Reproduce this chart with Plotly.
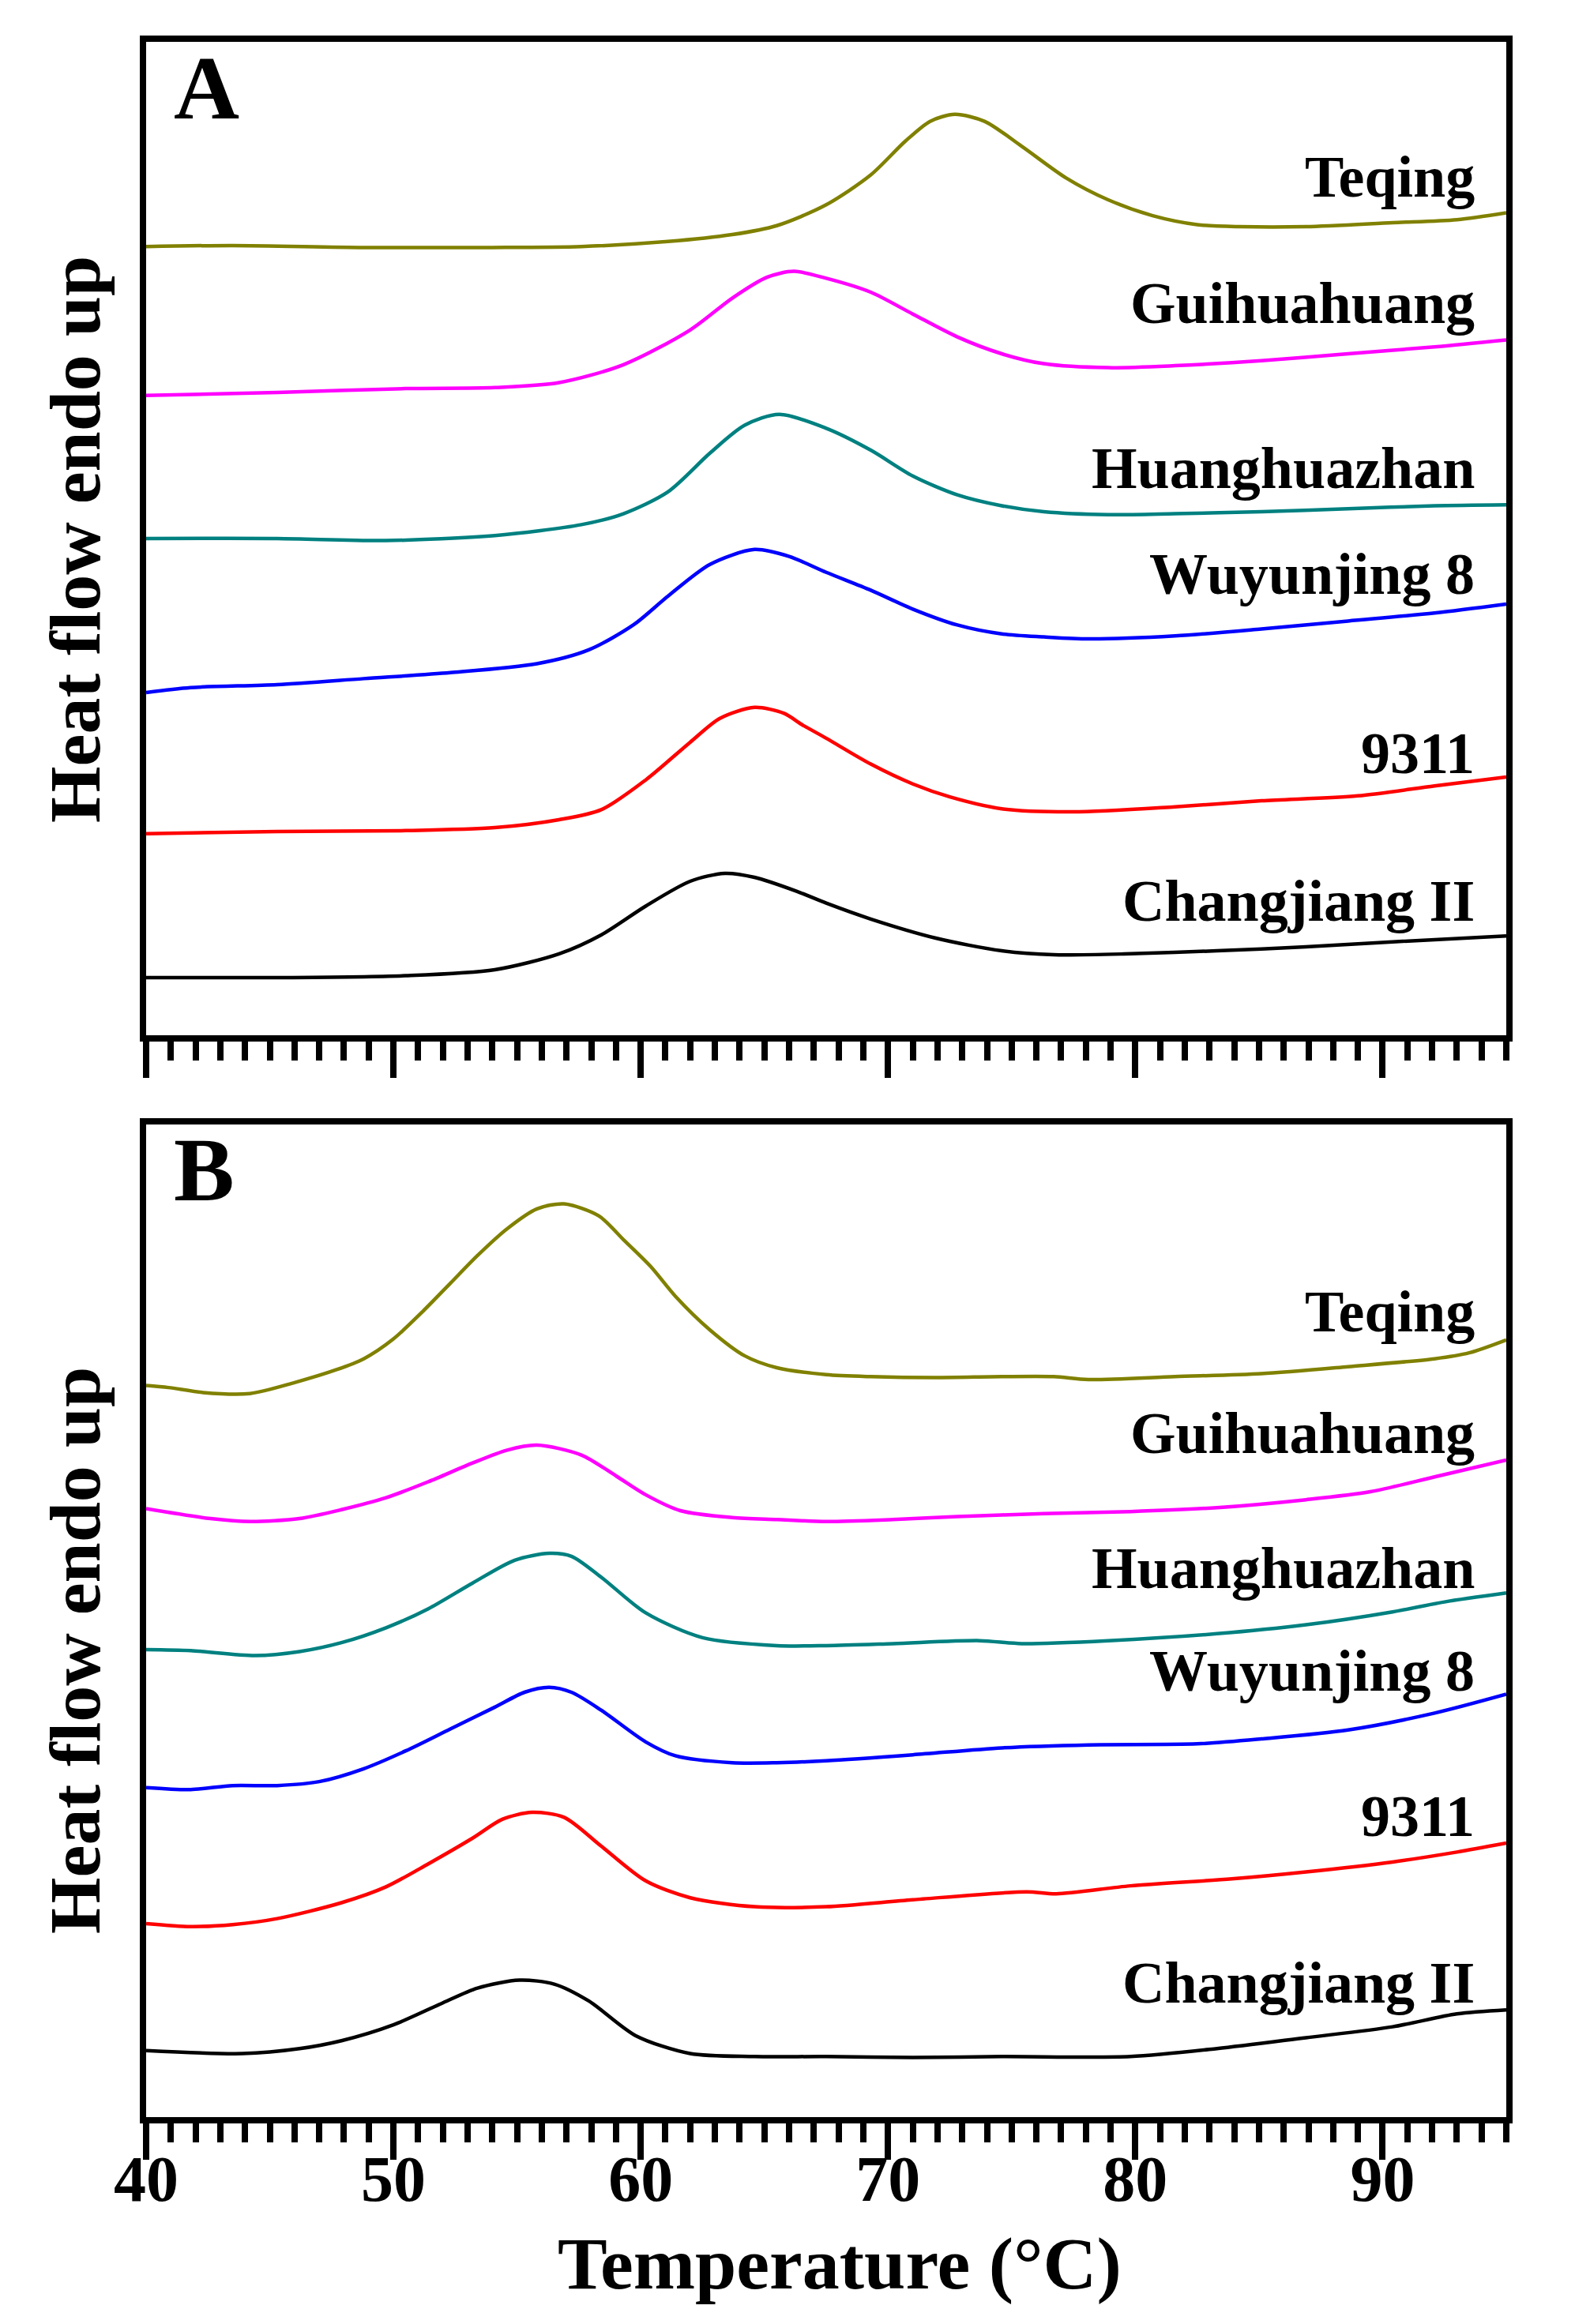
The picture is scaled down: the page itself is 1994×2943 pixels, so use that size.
import plotly.graph_objects as go

# ---- data (temperature in degC, heat flow in a.u.) ----
series_names = ['Teqing', 'Guihuahuang', 'Huanghuazhan', 'Wuyunjing 8', '9311', 'Changjiang II']
series_colors = ['#808000', '#ff00ff', '#008080', '#0000ff', '#ff0000', '#000000']

# panel A
teqing_a_t = [40.0, 43.5, 48.8, 54.0, 57.6, 61.1, 63.7, 65.5, 67.5, 69.3, 70.7, 71.7, 72.7, 73.9,
              75.4, 77.2, 78.9, 80.7, 82.5, 84.2, 86.9, 90.4, 93.0, 95.0]
teqing_a_y = [79.4, 79.5, 79.3, 79.3, 79.4, 79.9, 80.6, 81.5, 83.6, 86.6, 90.0, 92.0, 92.7, 92.0,
              89.5, 86.3, 84.1, 82.5, 81.6, 81.4, 81.4, 81.8, 82.1, 82.8]
guihua_a_t = [40.0, 45.3, 50.5, 54.1, 56.7, 59.3, 62.0, 63.7, 65.1, 66.2, 67.5,
              69.3, 71.0, 72.8, 74.6, 76.3, 78.9, 81.6, 85.1, 88.6, 92.1, 95.0]
guihua_a_y = [64.4, 64.7, 65.1, 65.2, 65.7, 67.5, 71.0, 74.2, 76.3, 76.9, 76.2,
              74.8, 72.6, 70.3, 68.6, 67.6, 67.2, 67.4, 67.9, 68.6, 69.3, 70.0]
huang_a_t = [40.0, 45.3, 49.7, 54.1, 57.6, 59.3, 61.1, 62.8, 64.2, 65.6, 67.5,
             69.3, 71.0, 72.8, 74.6, 76.3, 78.9, 81.6, 85.1, 88.6, 92.1, 95.0]
huang_a_y = [50.0, 50.0, 49.8, 50.3, 51.4, 52.5, 54.7, 58.6, 61.4, 62.5, 61.1,
             58.9, 56.3, 54.4, 53.3, 52.7, 52.4, 52.5, 52.7, 53.0, 53.3, 53.4]
wuyun_a_t = [40.0, 41.8, 45.3, 48.8, 52.3, 55.8, 57.9, 59.7, 61.1, 62.8, 64.6, 66.0, 67.5,
             69.3, 71.0, 72.8, 74.6, 76.3, 78.1, 81.6, 85.1, 88.6, 92.1, 95.0]
wuyun_a_y = [34.5, 35.0, 35.3, 35.9, 36.5, 37.4, 38.8, 41.3, 44.2, 47.4, 48.9, 48.2, 46.6,
             44.8, 42.9, 41.3, 40.4, 40.1, 39.9, 40.2, 40.9, 41.7, 42.5, 43.4]
r9311_a_t = [40.0, 45.3, 50.5, 54.1, 56.7, 58.4, 60.2, 62.0, 63.2, 64.6, 65.8, 66.5, 67.5,
             69.3, 71.0, 72.5, 74.6, 77.5, 81.6, 85.1, 89.0, 92.1, 95.0]
r9311_a_y = [20.3, 20.5, 20.6, 20.9, 21.7, 22.7, 25.7, 29.5, 31.9, 33.0, 32.4, 31.3, 29.9,
             27.3, 25.3, 24.0, 22.8, 22.5, 23.0, 23.6, 24.1, 25.1, 26.0]
chang_a_t = [40.0, 45.3, 50.5, 54.1, 56.7, 58.4, 60.2, 62.0, 63.4, 64.6, 66.3, 67.5,
             69.3, 71.9, 74.6, 76.7, 79.8, 83.3, 86.9, 90.4, 95.0]
chang_a_y = [5.8, 5.8, 6.0, 6.6, 8.2, 10.1, 13.0, 15.5, 16.3, 15.9, 14.5, 13.3,
             11.7, 9.8, 8.5, 8.1, 8.2, 8.5, 8.9, 9.4, 10.0]

# panel B
teqing_b_t = [40.0, 40.9, 42.3, 44.2, 46.0, 47.7, 48.8, 50.0, 51.2, 52.3, 53.4, 54.6, 55.8, 56.9,
              58.3, 59.3, 60.4, 61.4, 62.8, 64.2, 65.5, 67.5, 69.3, 71.9, 74.6, 76.7, 78.1,
              81.6, 85.1, 88.6, 92.1, 93.5, 95.0]
teqing_b_y = [73.7, 73.5, 73.0, 72.9, 74.0, 75.3, 76.4, 78.4, 81.2, 84.0, 86.8, 89.5, 91.5, 92.0,
              90.8, 88.4, 85.7, 82.7, 79.3, 76.7, 75.5, 74.8, 74.6, 74.5, 74.6, 74.6, 74.3,
              74.6, 74.9, 75.6, 76.4, 77.0, 78.3]
guihua_b_t = [40.0, 42.6, 44.2, 46.2, 47.9, 49.7, 51.4, 53.2, 54.6, 55.8, 57.6, 59.0, 60.2,
              61.6, 63.7, 65.5, 67.5, 70.2, 72.8, 76.3, 79.8, 83.3, 86.9, 89.5, 92.1, 95.0]
guihua_b_y = [61.3, 60.3, 60.0, 60.3, 61.2, 62.4, 64.0, 65.9, 67.2, 67.7, 66.7, 64.6, 62.7,
              61.1, 60.4, 60.2, 60.0, 60.2, 60.5, 60.8, 61.0, 61.4, 62.2, 63.0, 64.5, 66.2]
huang_b_t = [40.0, 41.8, 44.4, 46.2, 47.9, 49.7, 51.4, 53.2, 54.9, 56.3, 57.2, 58.4, 60.2,
             62.5, 65.5, 67.5, 70.2, 73.7, 75.4, 78.9, 83.3, 86.9, 90.4, 92.5, 95.0]
huang_b_y = [47.1, 47.0, 46.5, 46.9, 47.8, 49.3, 51.2, 53.8, 56.1, 56.8, 56.5, 54.4, 50.8,
             48.3, 47.5, 47.5, 47.7, 48.0, 47.7, 48.0, 48.7, 49.6, 50.9, 51.9, 52.8]
wuyun_b_t = [40.0, 41.8, 43.5, 45.3, 47.0, 48.8, 50.5, 52.3, 54.1, 55.3, 56.3, 57.2, 58.4,
             60.2, 61.4, 63.7, 65.5, 67.5, 71.0, 74.6, 78.1, 82.5, 85.1, 88.6, 92.1, 95.0]
wuyun_b_y = [33.2, 33.0, 33.4, 33.4, 33.8, 35.1, 36.9, 39.1, 41.3, 42.8, 43.3, 42.8, 41.0,
             37.8, 36.4, 35.7, 35.7, 35.9, 36.5, 37.2, 37.5, 37.6, 38.1, 39.0, 40.7, 42.6]
r9311_b_t = [40.0, 41.8, 43.5, 45.3, 47.9, 49.7, 51.4, 53.2, 54.4, 55.6, 56.9, 58.4, 60.2,
             62.0, 64.6, 67.5, 71.0, 75.6, 76.8, 79.8, 83.9, 86.9, 90.4, 93.0, 95.0]
r9311_b_y = [19.5, 19.2, 19.4, 20.0, 21.6, 23.2, 25.5, 28.1, 30.0, 30.7, 30.2, 27.3, 23.8,
             22.1, 21.2, 21.2, 21.9, 22.7, 22.5, 23.3, 24.0, 24.7, 25.7, 26.7, 27.6]
chang_b_t = [40.0, 43.9, 46.2, 47.9, 50.0, 51.9, 53.4, 55.1, 56.5, 57.9, 59.8, 62.0, 64.6,
             67.5, 71.0, 74.6, 79.8, 83.3, 86.9, 90.4, 93.0, 95.0]
chang_b_y = [6.7, 6.4, 6.9, 7.7, 9.3, 11.4, 13.0, 13.8, 13.4, 11.7, 8.2, 6.4, 6.1,
             6.1, 6.0, 6.1, 6.1, 6.9, 8.0, 9.1, 10.4, 10.8]

panel_a = [(teqing_a_t, teqing_a_y), (guihua_a_t, guihua_a_y), (huang_a_t, huang_a_y),
           (wuyun_a_t, wuyun_a_y), (r9311_a_t, r9311_a_y), (chang_a_t, chang_a_y)]
panel_b = [(teqing_b_t, teqing_b_y), (guihua_b_t, guihua_b_y), (huang_b_t, huang_b_y),
           (wuyun_b_t, wuyun_b_y), (r9311_b_t, r9311_b_y), (chang_b_t, chang_b_y)]

# label baselines (pixels from top of page) for each curve label
label_base_a = [242, 402, 611, 745, 972, 1159]
label_base_b = [1679, 1833, 2004, 2134, 2318, 2529]

# ---- page geometry ----
W, H = 1994, 2943
ML, MR, MT, MB = 177, 95, 45, 270
PW, PH = W - ML - MR, H - MT - MB
a_top, a_bot = 45, 1303
b_top, b_bot = 1416, 2673
FONT = 'Liberation Serif'


def px_x(px):
    return (px - ML) / PW


def px_y(py):
    return (H - MB - py) / PH


def text_at_baseline(text, xpix, base_pix, size, xanchor='right'):
    return dict(text=text, xref='paper', yref='paper', x=px_x(xpix), y=px_y(base_pix),
                xanchor=xanchor, yanchor='bottom', yshift=-(0.216 * size + 1),
                showarrow=False, font=dict(family=FONT, size=size, color='black', weight='bold'))


fig = go.Figure()

for (t, y), name, col in zip(panel_a, series_names, series_colors):
    fig.add_trace(go.Scatter(x=t, y=y, mode='lines', name=name, xaxis='x2', yaxis='y2',
                             line=dict(color=col, width=4.5, shape='spline', smoothing=0.8)))
for (t, y), name, col in zip(panel_b, series_names, series_colors):
    fig.add_trace(go.Scatter(x=t, y=y, mode='lines', name=name, xaxis='x', yaxis='y',
                             line=dict(color=col, width=4.5, shape='spline', smoothing=0.8)))

xcommon = dict(range=[40, 95], showline=True, linecolor='black', linewidth=8, mirror=True,
               ticks='outside', ticklen=46, tickwidth=8, tickcolor='black', tick0=40, dtick=10,
               showgrid=False, zeroline=False,
               minor=dict(ticks='outside', ticklen=24, tickwidth=8, tickcolor='black', dtick=1,
                          showgrid=False))
ycommon = dict(range=[0, 100], showline=True, linecolor='black', linewidth=8, mirror=True,
               ticks='', showticklabels=False, showgrid=False, zeroline=False)

fig.update_layout(
    width=W, height=H,
    margin=dict(l=ML, r=MR, t=MT, b=MB),
    paper_bgcolor='white', plot_bgcolor='white',
    showlegend=False,
    xaxis=dict(xcommon, anchor='y', domain=[0, 1], showticklabels=True, ticklabelstandoff=-46,
               tickfont=dict(family=FONT, size=82, color='black', weight='bold')),
    yaxis=dict(ycommon, anchor='x', domain=[px_y(b_bot), px_y(b_top)]),
    xaxis2=dict(xcommon, anchor='y2', domain=[0, 1], showticklabels=False),
    yaxis2=dict(ycommon, anchor='x2', domain=[px_y(a_bot), px_y(a_top)]),
)

annotations = []
for name, base in zip(series_names, label_base_a):
    annotations.append(text_at_baseline(name, 1861, base, 74))
for name, base in zip(series_names, label_base_b):
    annotations.append(text_at_baseline(name, 1861, base, 74))
annotations.append(text_at_baseline('A', 210, 143, 115, xanchor='left'))
annotations.append(text_at_baseline('B', 210, 1513, 115, xanchor='left'))
annotations.append(text_at_baseline('Temperature (°C)', 1055, 2891, 94, xanchor='center'))
for yc in [675, 2082]:
    annotations.append(dict(text='Heat flow endo up', xref='paper', yref='paper',
                            x=px_x(87), y=px_y(yc), xanchor='center', yanchor='middle',
                            textangle=-90, showarrow=False,
                            font=dict(family=FONT, size=92, color='black', weight='bold')))
fig.update_layout(annotations=annotations)

fig.write_html('out.html')
